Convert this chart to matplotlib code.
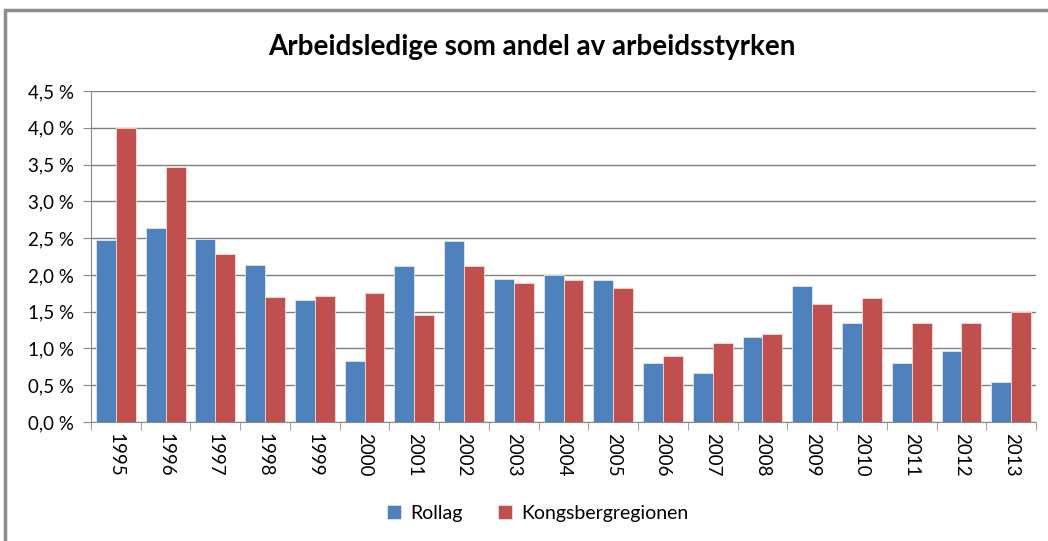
import matplotlib.pyplot as plt
import numpy as np
from matplotlib.patches import Rectangle
from matplotlib.ticker import FuncFormatter, MultipleLocator

years = [str(y) for y in range(1995, 2014)]
rollag = [2.47, 2.64, 2.49, 2.13, 1.66, 0.83, 2.12, 2.46, 1.94, 2.00,
          1.93, 0.80, 0.66, 1.15, 1.85, 1.34, 0.80, 0.97, 0.55]
kongsberg = [4.00, 3.47, 2.29, 1.70, 1.71, 1.76, 1.45, 2.12, 1.89, 1.93,
             1.82, 0.90, 1.07, 1.20, 1.60, 1.69, 1.34, 1.35, 1.50]
series_names = ["Rollag", "Kongsbergregionen"]

plt.rcParams["font.family"] = ["Lato", "DejaVu Sans"]

fig = plt.figure(figsize=(10.48, 5.41), dpi=100)
ax = fig.add_axes([91 / 1048, 1 - 422 / 541, (1036 - 91) / 1048, (422 - 91) / 541])

# outer chart frame
fig.patches.append(Rectangle((5 / 1048, -0.05), 1.2, 1 - 10 / 541 + 0.05,
                             transform=fig.transFigure, fill=False,
                             edgecolor="#8c8c8c", linewidth=2.5))

x = np.arange(len(years))
w = 0.4
ax.bar(x - w / 2, rollag, w, color="#4F81BD", edgecolor="#dce6f2", linewidth=0.6,
       label=series_names[0], zorder=3)
ax.bar(x + w / 2, kongsberg, w, color="#C0504D", edgecolor="#f2dcdb", linewidth=0.6,
       label=series_names[1], zorder=3)

ax.set_xlim(-0.5, len(years) - 0.5)
ax.set_ylim(0, 4.5)
ax.yaxis.set_major_locator(MultipleLocator(0.5))
ax.yaxis.set_major_formatter(FuncFormatter(lambda v, p: f"{v:.1f} %".replace(".", ",")))
ax.grid(axis="y", color="#808080", linewidth=1, zorder=0)

ax.set_xticks(x)
ax.set_xticklabels(years, rotation=270, fontsize=13.5)
ax.set_xticks(np.arange(-0.5, len(years)), minor=True)
ax.tick_params(axis="x", which="major", length=0, pad=8)
ax.tick_params(axis="x", which="minor", length=6, color="#8c8c8c", direction="out")
ax.tick_params(axis="y", length=6, color="#8c8c8c", labelsize=13.5, pad=6)

for s in ["top", "right"]:
    ax.spines[s].set_visible(False)
for s in ["left", "bottom"]:
    ax.spines[s].set_color("#8c8c8c")

fig.text(532 / 1048, 1 - 47 / 541, "Arbeidsledige som andel av arbeidsstyrken",
         ha="center", va="center", fontsize=20, fontweight="bold")

fig.legend(loc="center", bbox_to_anchor=(538 / 1048, 1 - 513 / 541), ncol=2,
           frameon=False, fontsize=14, handlelength=0.7, handleheight=0.7,
           columnspacing=1.8, handletextpad=0.5)

fig.savefig("out.png", dpi=100)
